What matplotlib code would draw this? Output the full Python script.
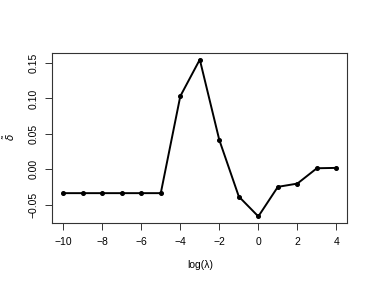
import matplotlib
matplotlib.use("Agg")
import matplotlib.pyplot as plt
import numpy as np

log_lambda = [-10, -9, -8, -7, -6, -5, -4, -3, -2, -1, 0, 1, 2, 3, 4]
delta = [-0.0338, -0.0338, -0.0338, -0.0338, -0.0338, -0.0338,
         0.1032, 0.155, 0.0413, -0.0386, -0.0667, -0.0249, -0.0203,
         0.0014, 0.0019]
xticks = [-10, -8, -6, -4, -2, 0, 2, 4]
yticks = [-0.05, 0.00, 0.05, 0.10, 0.15]

plt.rcParams["font.family"] = ["Liberation Sans", "DejaVu Sans"]

fig = plt.figure(figsize=(3.74, 2.91), dpi=100)
ax = fig.add_axes([52.3 / 374, 1 - 222.7 / 291, 295 / 374, 169.4 / 291])

ax.plot(log_lambda, delta, "-o", color="black", lw=1.4, ms=2.6)

# R-style 4% padding
xr = max(log_lambda) - min(log_lambda)
yr = max(delta) - min(delta)
ax.set_xlim(min(log_lambda) - 0.04 * xr, max(log_lambda) + 0.04 * xr)
ax.set_ylim(min(delta) - 0.04 * yr, max(delta) + 0.04 * yr)

ax.set_xticks(xticks)
ax.set_xticklabels([f"\u2212{-t}" if t < 0 else str(t) for t in xticks])
ax.set_yticks(yticks)
ax.set_yticklabels([f"\u2212{-t:.2f}" if t < 0 else f"{t:.2f}" for t in yticks],
                   rotation=90, va="center")
ax.tick_params(direction="out", length=5, width=0.7, labelsize=7.5,
               pad=5, color="#333333")
for s in ax.spines.values():
    s.set_linewidth(0.8)
    s.set_color("#333333")

ax.set_xlabel("log(\u03bb)", fontsize=7.5, labelpad=10)
fig.text(9 / 374, 1 - 137 / 291, r"$\tilde{\delta}$", rotation=90,
         ha="center", va="center", fontsize=7.5)

fig.savefig("out.png", dpi=100)
